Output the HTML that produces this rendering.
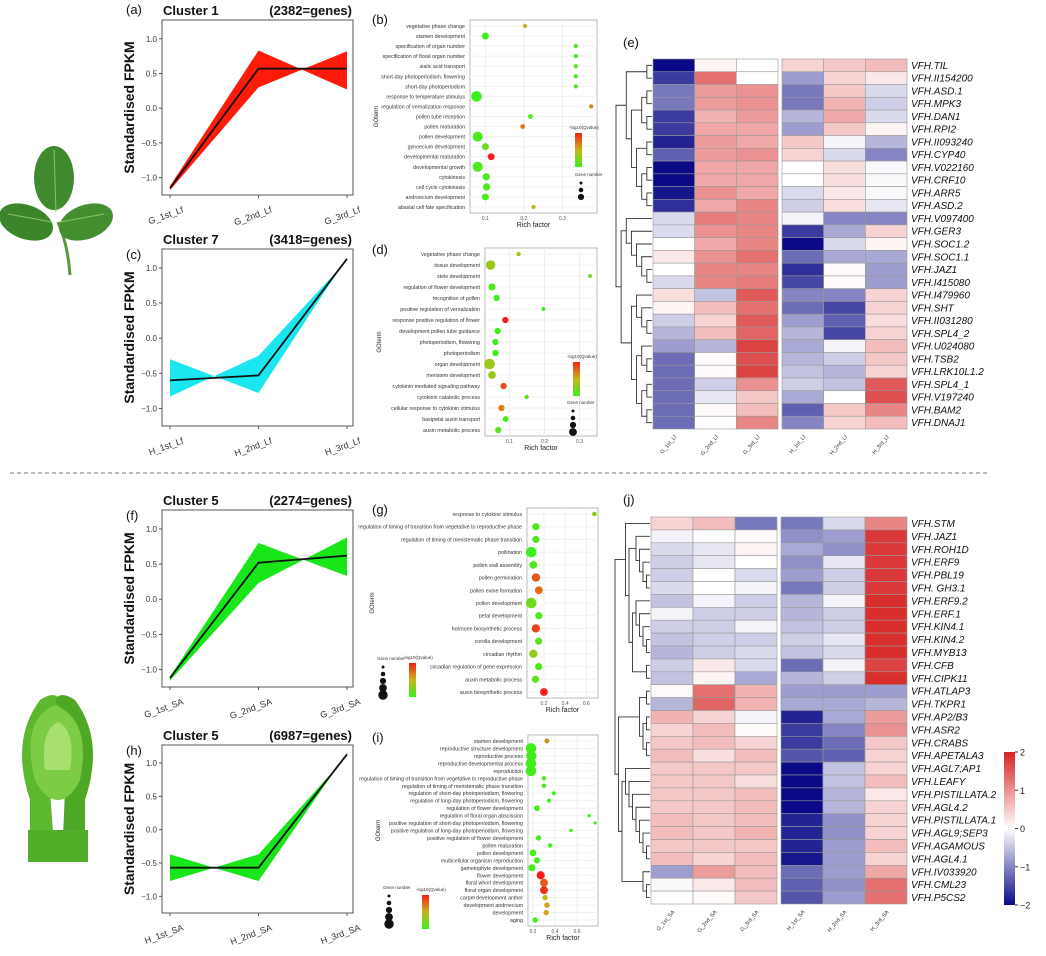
<!DOCTYPE html>
<html><head><meta charset="utf-8"><style>
body{margin:0;background:#fff}
svg{display:block;font-family:"Liberation Sans",sans-serif}
</style></head><body>
<svg id="fig" width="1046" height="956" viewBox="0 0 1046 956" xmlns="http://www.w3.org/2000/svg">
<g id="pics">
 <g>
  <path d="M70,275 Q68,245 58,222" stroke="#5a9a3a" stroke-width="3" fill="none"/>
  <ellipse cx="54" cy="178" rx="20" ry="32" fill="#3f8a2c"/>
  <ellipse cx="26" cy="222" rx="28" ry="17" transform="rotate(20 26 222)" fill="#3c852a"/>
  <ellipse cx="86" cy="222" rx="28" ry="17" transform="rotate(-20 86 222)" fill="#438f2f"/>
  <path d="M54,150 L56,212 M8,214 L52,222 M104,214 L60,222" stroke="#8cc46a" stroke-width="1" fill="none"/>
 </g>
 <g>
  <path d="M30,860 L30,800 Q10,740 40,700 Q55,690 60,700 Q40,740 50,790 L55,860 Z" fill="#5cb82e"/>
  <path d="M85,860 L85,800 Q105,740 75,700 Q60,690 55,700 Q75,740 65,790 L62,860 Z" fill="#4ea826"/>
  <path d="M35,780 Q20,720 55,705 Q92,720 80,780 Q70,800 58,800 Q45,800 35,780 Z" fill="#7ccd45"/>
  <path d="M45,770 Q40,730 58,722 Q76,730 70,770 Z" fill="#a8e070"/>
  <rect x="28" y="830" width="60" height="32" fill="#52ad28"/>
 </g>
</g>
<line x1="10" y1="473" x2="990" y2="473" stroke="#777" stroke-width="1" stroke-dasharray="4,3"/>
<g id="lines"></g>
<g id="dots"></g>
<g id="heat"></g>
</svg>
<script>
// ---------- line chart data ----------
const lineXLabelsA = ["G_1st_Lf","G_2nd_Lf","G_3rd_Lf"];
const lineXLabelsC = ["H_1st_Lf","H_2nd_Lf","H_3rd_Lf"];
const lineXLabelsF = ["G_1st_SA","G_2nd_SA","G_3rd_SA"];
const lineXLabelsH = ["H_1st_SA","H_2nd_SA","H_3rd_SA"];
const meanA = [-1.15, 0.57, 0.57];
const bandA1 = [-1.12, 0.83, 0.27];
const bandA2 = [-1.18, 0.30, 0.82];
const meanC = [-0.60, -0.53, 1.13];
const bandC1 = [-0.30, -0.78, 1.15];
const bandC2 = [-0.83, -0.25, 1.11];
const meanF = [-1.12, 0.52, 0.62];
const bandF1 = [-1.10, 0.80, 0.33];
const bandF2 = [-1.16, 0.23, 0.88];
const meanH = [-0.57, -0.57, 1.13];
const bandH1 = [-0.37, -0.77, 1.15];
const bandH2 = [-0.77, -0.37, 1.11];
const lineYTicks = [-1.0, -0.5, 0.0, 0.5, 1.0];

// ---------- dot plot data ----------
const termsB = ["vegetative phase change","stamen development","specification of organ number","specification of floral organ number","sialic acid transport","short-day photoperiodism, flowering","short-day photoperiodism","response to temperature stimulus","regulation of vernalization response","pollen tube reception","pollen maturation","pollen development","gynoecium development","developmental maturation","developmental growth","cytokinesis","cell cycle cytokinesis","androecium development","abaxial cell fate specification"];
const richB = [0.203,0.10,0.335,0.335,0.335,0.335,0.335,0.077,0.375,0.217,0.197,0.08,0.10,0.115,0.08,0.102,0.103,0.10,0.225];
const countB = [5,25,5,5,5,5,5,75,5,8,8,65,25,25,65,28,28,25,5];
const qB = [2.0,1.55,1.6,1.6,1.6,1.6,1.6,1.55,2.2,1.6,2.2,1.6,1.7,2.5,1.6,1.6,1.6,1.6,2.0];
const ticksB = [0.1,0.2,0.3];
const termsD = ["vegetative phase change","tissue development","stele development","regulation of flower development","recognition of pollen","positive regulation of vernalization","response positive regulation of flower","development pollen tube guidance","photoperiodism, flowering","photoperiodism","organ development","meristem development","cytokinin mediated signaling pathway","cytokinin catabolic process","cellular response to cytokinin stimulus","basipetal auxin transport","auxin metabolic process"];
const richD = [0.126,0.046,0.33,0.05,0.063,0.197,0.088,0.066,0.06,0.06,0.043,0.05,0.083,0.149,0.077,0.089,0.068];
const countD = [15,150,10,70,50,10,50,50,50,50,200,90,50,15,50,40,50];
const qD = [2.3,2.2,2.0,1.7,1.6,1.6,3.4,1.6,1.6,1.6,2.2,2.2,3.1,1.8,2.8,1.7,1.8];
const ticksD = [0.1,0.2,0.3];
const termsG = ["response to cytokine stimulus","regulation of timing of transition from vegetative to reproductive phase","regulation of timing of meristematic phase transition","pollination","pollen wall assembly","pollen germination","pollen exine formation","pollen development","petal development","hormone biosynthetic process","corolla development","circadian rhythm","circadian regulation of gene expression","auxin metabolic process","auxin biosynthetic process"];
const richG = [0.676,0.124,0.124,0.08,0.10,0.124,0.152,0.08,0.152,0.124,0.15,0.10,0.15,0.12,0.20];
const countG = [5,20,20,55,25,30,25,55,20,30,20,30,20,20,25];
const qG = [1.8,1.4,1.4,1.3,1.4,2.6,2.5,1.6,1.4,2.7,1.5,1.8,1.4,1.5,2.9];
const ticksG = [0.2,0.4,0.6];
const termsI = ["stamen development","reproductive structure development","reproductive process","reproductive developmental process","reproduction","regulation of timing of transition from vegetative to reproductive phase","regulation of timing of meristematic phase transition","regulation of short-day photoperiodism, flowering","regulation of long-day photoperiodism, flowering","regulation of flower development","regulation of floral organ abscission","positive regulation of short-day photoperiodism, flowering","positive regulation of long-day photoperiodism, flowering","positive regulation of flower development","pollen maturation","pollen development","multicellular organism reproduction","gametophyte development","flower development","floral whorl development","floral organ development","carpel development anther","development androecium","development","aging"];
const richI = [0.327,0.182,0.185,0.182,0.182,0.30,0.30,0.39,0.345,0.236,0.71,0.765,0.545,0.25,0.355,0.20,0.236,0.19,0.27,0.30,0.30,0.31,0.327,0.32,0.22];
const countI = [60,500,480,500,500,40,40,25,30,100,10,10,15,80,40,150,120,170,260,240,240,80,80,80,80];
const qI = [7,2.5,2.5,2.5,2.5,2.6,2.6,2.4,2.4,2.6,2.4,2.4,2.4,2.6,2.4,2.6,2.6,2.6,10,8.5,9.5,6,6.5,6.5,2.6];
const ticksI = [0.2,0.4,0.6];

// ---------- heatmap data ----------
const colsE = ["G_1st_Lf","G_2nd_Lf","G_3rd_Lf","H_1st_Lf","H_2nd_Lf","H_3rd_Lf"];
const genesE = ["VFH.TIL","VFH.II154200","VFH.ASD.1","VFH.MPK3","VFH.DAN1","VFH.RPI2","VFH.II093240","VFH.CYP40","VFH.V022160","VFH.CRF10","VFH.ARR5","VFH.ASD.2","VFH.V097400","VFH.GER3","VFH.SOC1.2","VFH.SOC1.1","VFH.JAZ1","VFH.I415080","VFH.I479960","VFH.SHT","VFH.II031280","VFH.SPL4_2","VFH.U024080","VFH.TSB2","VFH.LRK10L1.2","VFH.SPL4_1","VFH.V197240","VFH.BAM2","VFH.DNAJ1"];
const valuesE = [
[-2,0.1,0,0.4,0.5,0.6],[-1.6,1.3,0,-0.8,0.4,0.2],[-1.1,0.9,1.0,-1.1,0.5,-0.3],[-1.1,0.9,1.0,-1.1,0.7,-0.4],
[-1.6,0.7,0.9,-0.6,0.8,-0.3],[-1.6,0.8,0.8,-0.8,0.5,0.1],[-1.8,0.9,0.8,0.5,-0.1,-0.6],[-1.3,0.9,1.0,0.4,-0.3,-1.0],
[-2,0.8,0.8,0,0.3,-0.05],[-2,0.8,0.8,0,0.3,-0.05],[-1.9,1.0,0.8,-0.3,0.2,-0.05],[-1.7,0.8,1.1,-0.4,0.3,-0.2],
[-0.3,1.2,1.1,-0.1,-1.0,-1.0],[-0.3,1.0,1.1,-1.6,-0.7,0.4],[0,0.8,1.1,-2,-0.3,0.1],[0.2,1.0,1.3,-1.2,-0.7,-0.7],
[0,1.1,1.1,-1.7,0.05,-0.8],[-0.3,1.1,1.2,-1.5,0.05,-0.8],[0.3,-0.5,1.5,-1.0,-1.0,0.4],[0.1,0.6,1.3,-1.2,-1.5,0.4],
[-0.4,0.4,1.5,-0.8,-1.3,0.3],[-0.6,0.6,1.4,-0.6,-1.5,0.4],[-0.8,-0.6,1.7,-0.7,-0.1,0.6],[-1.2,0.05,1.6,-0.6,-0.4,0.5],
[-1.2,0.05,1.7,-0.5,-0.6,0.4],[-1.2,-0.4,1.0,-0.4,-0.5,1.5],[-1.2,-0.2,0.5,-0.7,0,1.6],[-1.2,0.05,0.6,-1.3,0.5,1.1],
[-1.2,0,1.1,-1.0,0.4,0.6]];
const treeE = [[[0,1],[[[2,3],[4,5]],[[6,7],[[8,9],[10,11]]]]],[[12,[13,[14,[15,[16,17]]]]],[[18,[19,[20,21]]],[[22,[23,24]],[[25,26],[27,28]]]]]];
const colsJ = ["G_1st_SA","G_2nd_SA","G_3rd_SA","H_1st_SA","H_2nd_SA","H_3rd_SA"];
const genesJ = ["VFH.STM","VFH.JAZ1","VFH.ROH1D","VFH.ERF9","VFH.PBL19","VFH. GH3.1","VFH.ERF9.2","VFH.ERF.1","VFH.KIN4.1","VFH.KIN4.2","VFH.MYB13","VFH.CFB","VFH.CIPK11","VFH.ATLAP3","VFH.TKPR1","VFH.AP2/B3","VFH.ASR2","VFH.CRABS","VFH.APETALA3","VFH.AGL7;AP1","VFH.LEAFY","VFH.PISTILLATA.2","VFH.AGL4.2","VFH.PISTILLATA.1","VFH.AGL9;SEP3","VFH.AGAMOUS","VFH.AGL4.1","VFH.IV033920","VFH.CML23","VFH.P5CS2"];
const valuesJ = [
[0.4,0.6,-1.1,-1.1,-0.3,1.1],[-0.1,0,0.05,-0.9,-0.8,1.8],[-0.3,-0.2,0.1,-0.7,-0.9,1.8],[-0.4,-0.2,0,-0.9,-0.2,1.8],
[-0.4,0,-0.3,-0.8,-0.4,1.8],[-0.3,0,-0.1,-1.1,-0.4,1.8],[-0.5,-0.1,-0.4,-0.6,-0.1,1.9],[-0.1,-0.4,-0.4,-0.6,-0.4,1.9],
[-0.4,-0.4,-0.1,-0.5,-0.4,1.9],[-0.5,-0.4,-0.4,-0.4,-0.2,1.9],[-0.6,-0.4,-0.3,-0.5,-0.3,1.9],[-0.4,0.2,-0.3,-1.2,-0.1,1.7],
[-0.5,0.1,-0.7,-0.6,-0.4,1.9],[0.05,1.3,0.7,-0.8,-0.8,-0.8],[-0.6,1.4,0.7,-0.7,-0.7,-0.6],[0.7,0.4,-0.1,-1.8,-0.7,0.9],
[0.4,0.6,0.05,-1.6,-1.0,1.0],[0.5,0.6,0.4,-1.6,-1.2,0.5],[0.6,0.3,0.6,-1.4,-1.3,0.4],[0.5,0.5,0.5,-2,-0.5,0.4],
[0.5,0.5,0.3,-2,-0.5,0.6],[0.5,0.5,0.6,-2,-0.6,0.2],[0.5,0.5,0.6,-2,-0.6,0.4],[0.6,0.5,0.6,-1.8,-0.9,0.4],
[0.6,0.5,0.7,-1.8,-0.9,0.4],[0.5,0.5,0.5,-1.8,-0.8,0.6],[0.6,0.4,0.6,-1.9,-0.8,0.4],[-0.8,0.9,0.6,-1.2,-0.8,0.8],
[-0.05,0.2,0.6,-1.3,-0.9,1.3],[0,0.05,0.5,-1.4,-0.8,1.3]];
const treeJ = [[0,[[1,[2,[3,[4,5]]]],[[6,[7,[8,[9,10]]]],[11,12]]]],[[[13,14],[[15,16],[17,18]]],[[19,[20,[21,[22,[23,[24,[25,26]]]]]]],[27,[28,29]]]]];
const colorbarTicks = [2,1,0,-1,-2];

const NS="http://www.w3.org/2000/svg";
function mk(parent,tag,attrs,text){const e=document.createElementNS(NS,tag);for(const k in attrs)e.setAttribute(k,attrs[k]);if(text!==undefined)e.textContent=text;parent.appendChild(e);return e;}

// ---------- line charts ----------
function lineChart(g,box,tag,title,count,labels,mean,b1,b2,fill,labelBelow){
  const grp=mk(g,'g',{});
  
  
  const yMin=-1.25,yMax=1.27;
  const ys=v=>box.y1-(v-yMin)/(yMax-yMin)*(box.y1-box.y0);
  const xs=i=>box.x0+8+i*(box.x1-box.x0-14)/2;
  let pts=[];for(let i=0;i<3;i++)pts.push(xs(i)+','+ys(b1[i]));for(let i=2;i>=0;i--)pts.push(xs(i)+','+ys(b2[i]));
  const band=mk(grp,'polygon',{points:pts.join(' '),fill:fill,'fill-rule':'nonzero'});
  
  
  const ml=mk(grp,'polyline',{points:mean.map((v,i)=>xs(i)+','+ys(v)).join(' '),fill:'none',stroke:'#111','stroke-width':1.8});
  
  
  const frame=mk(grp,'rect',{x:box.x0,y:box.y0,width:box.x1-box.x0,height:box.y1-box.y0,fill:'none',stroke:'#555','stroke-width':1});
  
  
  lineYTicks.forEach(t=>{const y=ys(t);mk(grp,'line',{x1:box.x0-3,x2:box.x0,y1:y,y2:y,stroke:'#555'});
    const tl=mk(grp,'text',{x:box.x0-5,y:y+3,'font-size':8,'text-anchor':'end',fill:'#333'},t.toFixed(1).replace('-','−'));
    
    });
  labels.forEach((l,i)=>{const x=xs(i);mk(grp,'line',{x1:x,x2:x,y1:box.y1,y2:box.y1+3,stroke:'#555'});
    const tl=mk(grp,'text',{x:x+14,y:box.y1+17,'font-size':9,'text-anchor':'end',fill:'#333',transform:`rotate(-20 ${x+14} ${box.y1+17})`},l);
    
    });
  const pl=mk(grp,'text',{x:box.x0-36,y:labelBelow?box.y0+10:box.y0-6,'font-size':13,fill:'#111'},'('+tag+')');
  
  
  const ti=mk(grp,'text',{x:box.x0+1,y:box.y0-5,'font-size':13,'font-weight':'bold',fill:'#111'},title);
  
  
  const ct=mk(grp,'text',{x:box.x1-1,y:box.y0-5,'font-size':13,'font-weight':'bold','text-anchor':'end',fill:'#111'},count);
  
  
  const cy=(box.y0+box.y1)/2;
  const yt=mk(grp,'text',{x:box.x0-28,y:cy,'font-size':14,'font-weight':'bold','text-anchor':'middle',fill:'#111',transform:`rotate(-90 ${box.x0-28} ${cy})`},'Standardised FPKM');
  
  
}
const LG=document.getElementById('lines');
lineChart(LG,{x0:162,x1:353,y0:20,y1:195},'a','Cluster 1','(2382=genes)',lineXLabelsA,meanA,bandA1,bandA2,'#ff1a0a',false);
lineChart(LG,{x0:162,x1:353,y0:249,y1:426},'c','Cluster 7','(3418=genes)',lineXLabelsC,meanC,bandC1,bandC2,'#19e6ef',true);
lineChart(LG,{x0:162,x1:353,y0:510,y1:687},'f','Cluster 5','(2274=genes)',lineXLabelsF,meanF,bandF1,bandF2,'#19e619',true);
lineChart(LG,{x0:162,x1:353,y0:745,y1:913},'h','Cluster 5','(6987=genes)',lineXLabelsH,meanH,bandH1,bandH2,'#19e619',true);

// ---------- dot plots ----------
function qColor(t){t=Math.max(0,Math.min(1,t));let c1,c2,u;
  if(t<0.5){c1=[60,240,30];c2=[200,180,25];u=t/0.5;}else{c1=[200,180,25];c2=[245,30,25];u=(t-0.5)/0.5;}
  return `rgb(${c1.map((c,i)=>Math.round(c+(c2[i]-c)*u)).join(',')})`;}
function dotPlot(g,box,tag,terms,rich,count,q,ticks,xmin,xmax,legendPos){
  const grp=mk(g,'g',{});
  
  
  const xs=v=>box.x0+(v-xmin)/(xmax-xmin)*(box.x1-box.x0);
  const n=terms.length, step=(box.y1-box.y0-12)/(n-1);
  const ys=i=>box.y0+6+i*step;
  mk(grp,'rect',{x:box.x0,y:box.y0,width:box.x1-box.x0,height:box.y1-box.y0,fill:'#fff',stroke:'#aaa','stroke-width':0.8});
  ticks.forEach(t=>{mk(grp,'line',{x1:xs(t),x2:xs(t),y1:box.y0,y2:box.y1,stroke:'#eee'});
    const tl=mk(grp,'text',{x:xs(t),y:box.y1+7,'font-size':5,'text-anchor':'middle',fill:'#555'},t.toFixed(1));
    
    });
  const cmax=Math.max(...count), qmin=Math.min(...q), qmax=Math.max(...q);
  terms.forEach((t,i)=>{const y=ys(i);
    mk(grp,'line',{x1:box.x0,x2:box.x1,y1:y,y2:y,stroke:'#f0f0f0'});
    const lb=mk(grp,'text',{x:box.x0-5,y:y+2,'font-size':5.3,'text-anchor':'end',fill:'#333'},t);
    
    
    const c=mk(grp,'circle',{cx:xs(rich[i]),cy:y,r:1+4.3*Math.sqrt(count[i]/cmax),fill:qColor((q[i]-qmin)/(qmax-qmin))});
    
    });
  const xt=mk(grp,'text',{x:(box.x0+box.x1)/2,y:box.y1+14,'font-size':7,'text-anchor':'middle',fill:'#222'},'Rich factor');
  
  
  const yx=legendPos.goX,yy=(box.y0+box.y1)/2;
  const yt=mk(grp,'text',{x:yx,y:yy,'font-size':6,'text-anchor':'middle',fill:'#222',transform:`rotate(-90 ${yx} ${yy})`},'GOterm');
  
  
  const pl=mk(grp,'text',{x:legendPos.px,y:legendPos.py,'font-size':13,fill:'#111'},'('+tag+')');
  
  
  const lg=mk(grp,'g',{});
  
  
  const L=legendPos;
  mk(lg,'text',{x:L.cx-6,y:L.cy-4,'font-size':4.5,fill:'#333'},'-log10(Qvalue)');
  const gid='grad'+tag;const d=mk(lg,'defs',{});const gr=mk(d,'linearGradient',{id:gid,x1:0,y1:1,x2:0,y2:0});
  mk(gr,'stop',{offset:0,'stop-color':qColor(0)});mk(gr,'stop',{offset:0.5,'stop-color':qColor(0.5)});mk(gr,'stop',{offset:1,'stop-color':qColor(1)});
  mk(lg,'rect',{x:L.cx,y:L.cy,width:7,height:34,fill:`url(#${gid})`});
  mk(lg,'text',{x:L.sx-3,y:L.sy-4,'font-size':4.5,fill:'#333'},'Gene number');
  for(let k=0;k<L.nSizes;k++)mk(lg,'circle',{cx:L.sx+3,cy:L.sy+3+k*7,r:1.5+k*0.8,fill:'#111'});
}
const DG=document.getElementById('dots');
dotPlot(DG,{x0:470,x1:597,y0:20,y1:213},'b',termsB,richB,countB,qB,ticksB,0.06,0.39,{goX:378,px:372,py:24,cx:575,cy:133,sx:578,sy:180,nSizes:3});
dotPlot(DG,{x0:485,x1:597,y0:248,y1:436},'d',termsD,richD,countD,qD,ticksD,0.03,0.35,{goX:381,px:372,py:254,cx:573,cy:362,sx:570,sy:408,nSizes:4});
dotPlot(DG,{x0:527,x1:598,y0:508,y1:698},'g',termsG,richG,countG,qG,ticksG,0.04,0.71,{goX:374,px:372,py:514,cx:409,cy:663,sx:380,sy:664,nSizes:5});
dotPlot(DG,{x0:528,x1:598,y0:735,y1:926},'i',termsI,richI,countI,qI,ticksI,0.155,0.79,{goX:380,px:372,py:742,cx:422,cy:895,sx:386,sy:893,nSizes:5});

// ---------- heatmaps ----------
function heatColor(v){v=Math.max(-2,Math.min(2,v));let c;
  if(v<0){const u=-v/2;c=[255+(10-255)*u,255+(10-255)*u,255+(135-255)*u];}
  else{const u=v/2;c=[255+(214-255)*u,255+(35-255)*u,255+(35-255)*u];}
  return `rgb(${c.map(Math.round).join(',')})`;}
function heatmap(g,geo,tag,cols,genes,vals,tree){
  const grp=mk(g,'g',{});
  
  
  const n=genes.length,rh=(geo.y1-geo.y0)/n,cw=(geo.x1-geo.x0-geo.gap)/6;
  const cx=j=>geo.x0+j*cw+(j>=3?geo.gap:0);
  vals.forEach((row,i)=>row.forEach((v,j)=>{
    const r=mk(grp,'rect',{x:cx(j),y:geo.y0+i*rh,width:cw,height:rh,fill:heatColor(v),stroke:'#999','stroke-width':0.6});
    
    }));
  genes.forEach((gn,i)=>{const t=mk(grp,'text',{x:geo.x1+4,y:geo.y0+i*rh+rh/2+3.5,'font-size':10,'font-style':'italic',fill:'#111'},gn);
    
    });
  cols.forEach((c,j)=>{const x=cx(j)+cw/2+3,y=geo.y1+8;
    const t=mk(grp,'text',{x:x,y:y,'font-size':5.5,'text-anchor':'end',fill:'#333',transform:`rotate(-50 ${x} ${y})`},c);
    
    });
  const pl=mk(grp,'text',{x:geo.px,y:geo.py,'font-size':13,fill:'#111'},'('+tag+')');
  
  
  const dg=mk(grp,'g',{stroke:'#333','stroke-width':0.9,fill:'none'});
  
  
  function h(node){return Array.isArray(node)?1+Math.max(h(node[0]),h(node[1])):0;}
  const H=h(tree),unit=(geo.x0-2-geo.dx)/H;
  function draw(node){if(!Array.isArray(node))return{y:geo.y0+node*rh+rh/2,x:geo.x0-1};
    const a=draw(node[0]),b=draw(node[1]);const x=geo.x0-1-h(node)*unit;
    mk(dg,'path',{d:`M${a.x},${a.y}H${x}V${b.y}H${b.x}`});return{x:x,y:(a.y+b.y)/2};}
  draw(tree);
}
const HG=document.getElementById('heat');
heatmap(HG,{x0:653,x1:907,y0:59,y1:429,gap:4,dx:615,px:623,py:47},'e',colsE,genesE,valuesE,treeE);
heatmap(HG,{x0:651,x1:907,y0:517,y1:904,gap:4,dx:614,px:623,py:504},'j',colsJ,genesJ,valuesJ,treeJ);
const cb=mk(HG,'g',{});


const cbd=mk(cb,'defs',{});const cg=mk(cbd,'linearGradient',{id:'cbg',x1:0,y1:0,x2:0,y2:1});
[2,1,0,-1,-2].forEach((v,k)=>mk(cg,'stop',{offset:k/4,'stop-color':heatColor(v)}));
mk(cb,'rect',{x:1004,y:752,width:11,height:153,fill:'url(#cbg)'});
colorbarTicks.forEach(t=>{const y=752+(2-t)/4*153;
  mk(cb,'line',{x1:1015,x2:1018,y1:y,y2:y,stroke:'#333'});
  const tl=mk(cb,'text',{x:1020,y:y+3.5,'font-size':9,fill:'#222'},t<0?'−'+(-t):String(t));
  
  });
</script>
</body></html>
